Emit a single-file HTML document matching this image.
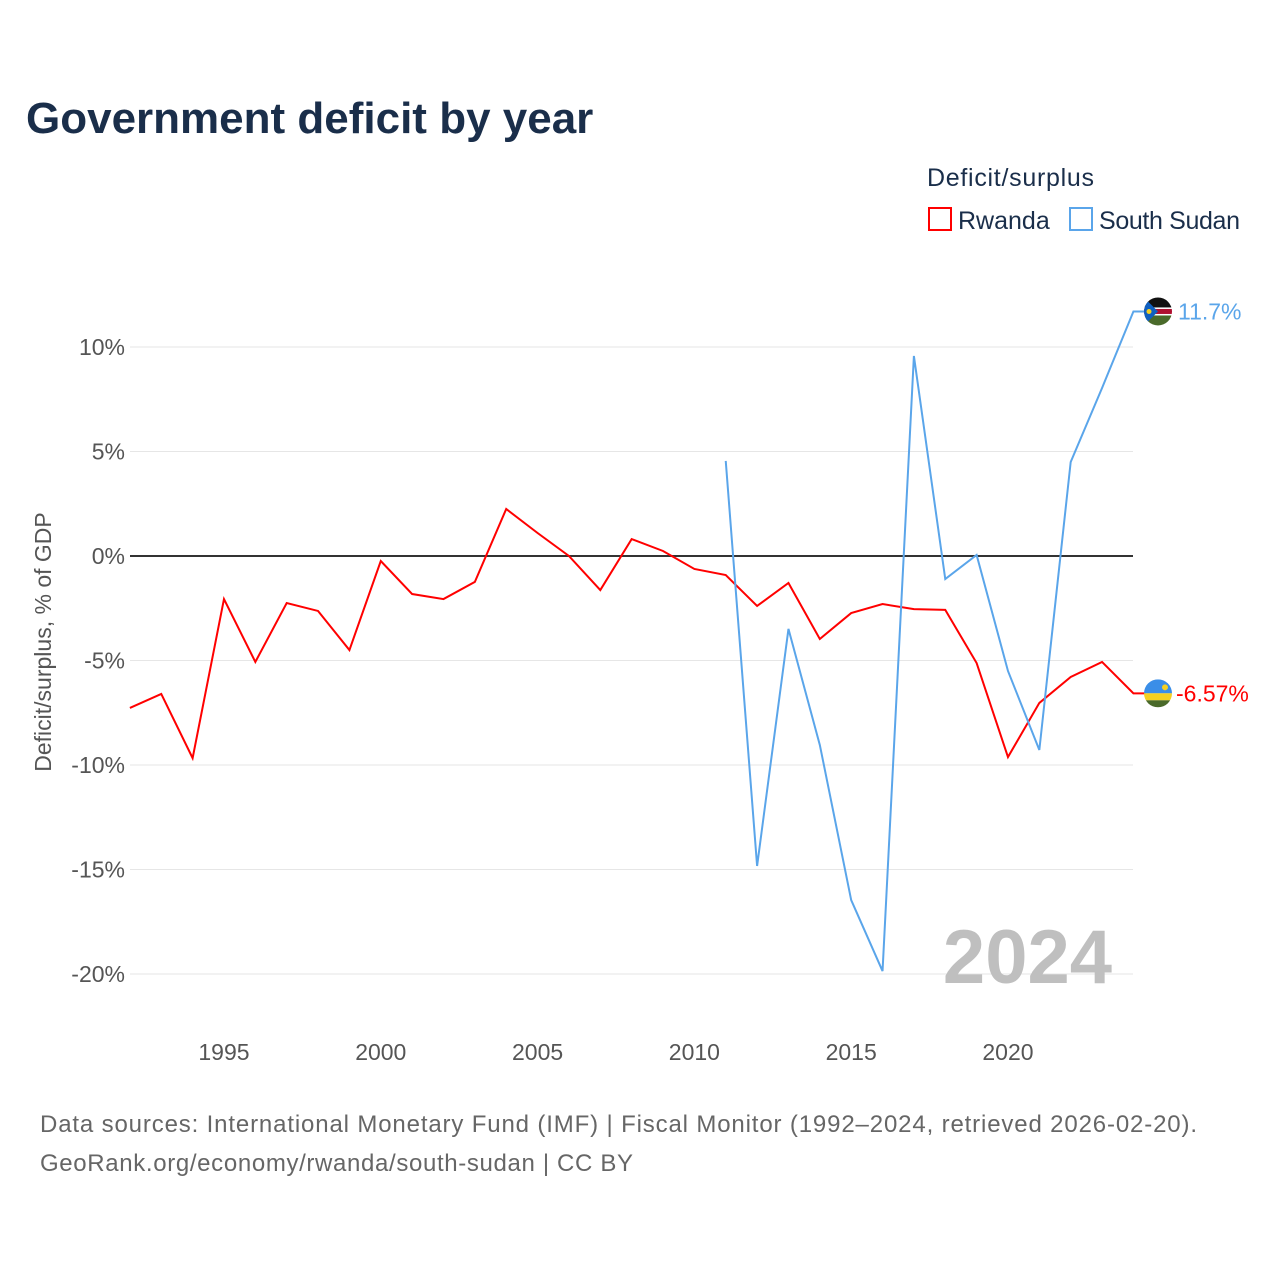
<!DOCTYPE html>
<html><head><meta charset="utf-8"><style>
body{margin:0;background:#fff;font-family:"Liberation Sans",sans-serif}
</style></head><body>
<svg id="c" width="1280" height="1280" xmlns="http://www.w3.org/2000/svg" style="font-family:'Liberation Sans',sans-serif">
<rect width="1280" height="1280" fill="#fff"/>
<text x="26" y="133" font-size="44" font-weight="bold" fill="#1a2e4a">Government deficit by year</text>
<text x="927" y="186" font-size="25" fill="#1a2e4a" textLength="167">Deficit/surplus</text>
<g><rect x="929" y="208" width="22" height="22" fill="none" stroke="#ff0000" stroke-width="2"/><text x="958" y="229" font-size="25" fill="#1a2e4a">Rwanda</text></g>
<g><rect x="1070" y="208" width="22" height="22" fill="none" stroke="#5aa5ea" stroke-width="2"/><text x="1099" y="229" font-size="25" fill="#1a2e4a" textLength="141">South Sudan</text></g>
<g id="grid"></g><g id="series"></g><g id="labels"></g>
<text transform="translate(51,642) rotate(-90)" text-anchor="middle" font-size="23" fill="#555">Deficit/surplus, % of GDP</text>
<text x="1112" y="983" text-anchor="end" font-size="76" font-weight="bold" fill="#bfbfbf">2024</text>
<text x="40" y="1132" font-size="24" fill="#666" textLength="1157">Data sources: International Monetary Fund (IMF) | Fiscal Monitor (1992–2024, retrieved 2026-02-20).</text>
<text x="40" y="1171" font-size="24" fill="#666" textLength="593">GeoRank.org/economy/rwanda/south-sudan | CC BY</text>
</svg>
<script>
const years=[1992,1993,1994,1995,1996,1997,1998,1999,2000,2001,2002,2003,2004,2005,2006,2007,2008,2009,2010,2011,2012,2013,2014,2015,2016,2017,2018,2019,2020,2021,2022,2023,2024];
const rwanda=[-7.27,-6.6,-9.67,-2.06,-5.07,-2.25,-2.63,-4.5,-0.24,-1.82,-2.06,-1.24,2.25,1.1,0,-1.63,0.81,0.24,-0.62,-0.91,-2.39,-1.29,-3.97,-2.73,-2.3,-2.54,-2.58,-5.12,-9.62,-7.03,-5.79,-5.07,-6.57];
const ssYears=[2011,2012,2013,2014,2015,2016,2017,2018,2019,2020,2021,2022,2023,2024];
const southSudan=[4.55,-14.83,-3.49,-9.04,-16.46,-19.86,9.57,-1.1,0.05,-5.5,-9.28,4.5,8.04,11.7];
const yTicks=[10,5,0,-5,-10,-15,-20];
const xTicks=[1995,2000,2005,2010,2015,2020];
const NS='http://www.w3.org/2000/svg';
const x=v=>129.9+(v-1992)*31.36;
const y=v=>556-v*20.9;
function mk(t,a,p){const e=document.createElementNS(NS,t);for(const k in a)e.setAttribute(k,a[k]);p.appendChild(e);return e;}
const g=document.getElementById('grid'),s=document.getElementById('series'),L=document.getElementById('labels');
yTicks.forEach(v=>{
 const l=mk('line',{x1:130,x2:1133,y1:y(v),y2:y(v),stroke:v===0?'#333':'#e6e6e6','stroke-width':v===0?2:1},g);
 
 
 const t=mk('text',{x:125,y:y(v)+8,'text-anchor':'end','font-size':23,fill:'#555'},g);t.textContent=v+'%';
 
 
});
xTicks.forEach(v=>{
 const t=mk('text',{x:x(v),y:1060,'text-anchor':'middle','font-size':23,fill:'#555'},g);t.textContent=v;
 
 
});
function line(xs,vs,c,name){
 const pts=xs.map((yr,i)=>x(yr)+','+y(vs[i]));
 const last=vs[vs.length-1];
 pts.push((x(xs[xs.length-1])+12)+','+y(last));
 const p=mk('polyline',{points:pts.join(' '),fill:'none',stroke:c,'stroke-width':2},s);
 
 
}
line(years,rwanda,'#ff0000','rwanda-line');
line(ssYears,southSudan,'#5aa5ea','south-sudan-line');
function flagSS(cy){
 const gg=mk('g',{},L);
 
 
 const cp=mk('clipPath',{id:'cs'},gg);mk('circle',{cx:1158,cy:cy,r:14},cp);
 const h=mk('g',{'clip-path':'url(#cs)'},gg);
 mk('rect',{x:1144,y:cy-14,width:28,height:10,fill:'#111'},h);
 mk('rect',{x:1144,y:cy-4,width:28,height:8,fill:'#fff'},h);
 mk('rect',{x:1144,y:cy-2.5,width:28,height:5,fill:'#b01030'},h);
 mk('rect',{x:1144,y:cy+4,width:28,height:10,fill:'#4a6a2a'},h);
 mk('polygon',{points:`1144,${cy-14} 1158,${cy} 1144,${cy+14}`,fill:'#1060c0'},h);
 mk('circle',{cx:1149,cy:cy,r:2.5,fill:'#f5d020'},h);
}
function flagRW(cy){
 const gg=mk('g',{},L);
 
 
 const cp=mk('clipPath',{id:'cr'},gg);mk('circle',{cx:1158,cy:cy,r:14},cp);
 const h=mk('g',{'clip-path':'url(#cr)'},gg);
 mk('rect',{x:1144,y:cy-14,width:28,height:14,fill:'#3a8ee8'},h);
 mk('rect',{x:1144,y:cy,width:28,height:7,fill:'#f5d020'},h);
 mk('rect',{x:1144,y:cy+7,width:28,height:7,fill:'#4a6a2a'},h);
 mk('circle',{cx:1165,cy:cy-6,r:3,fill:'#f5d020'},h);
}
const ssLast=southSudan[southSudan.length-1], rwLast=rwanda[rwanda.length-1];
flagSS(y(ssLast));flagRW(y(rwLast));
let t=mk('text',{x:1178,y:y(ssLast)+8,'font-size':23,fill:'#5aa5ea'},L);t.textContent=ssLast+'%';


t=mk('text',{x:1176,y:y(rwLast)+8,'font-size':23,fill:'#ff0000'},L);t.textContent=rwLast+'%';


</script>
</body></html>
